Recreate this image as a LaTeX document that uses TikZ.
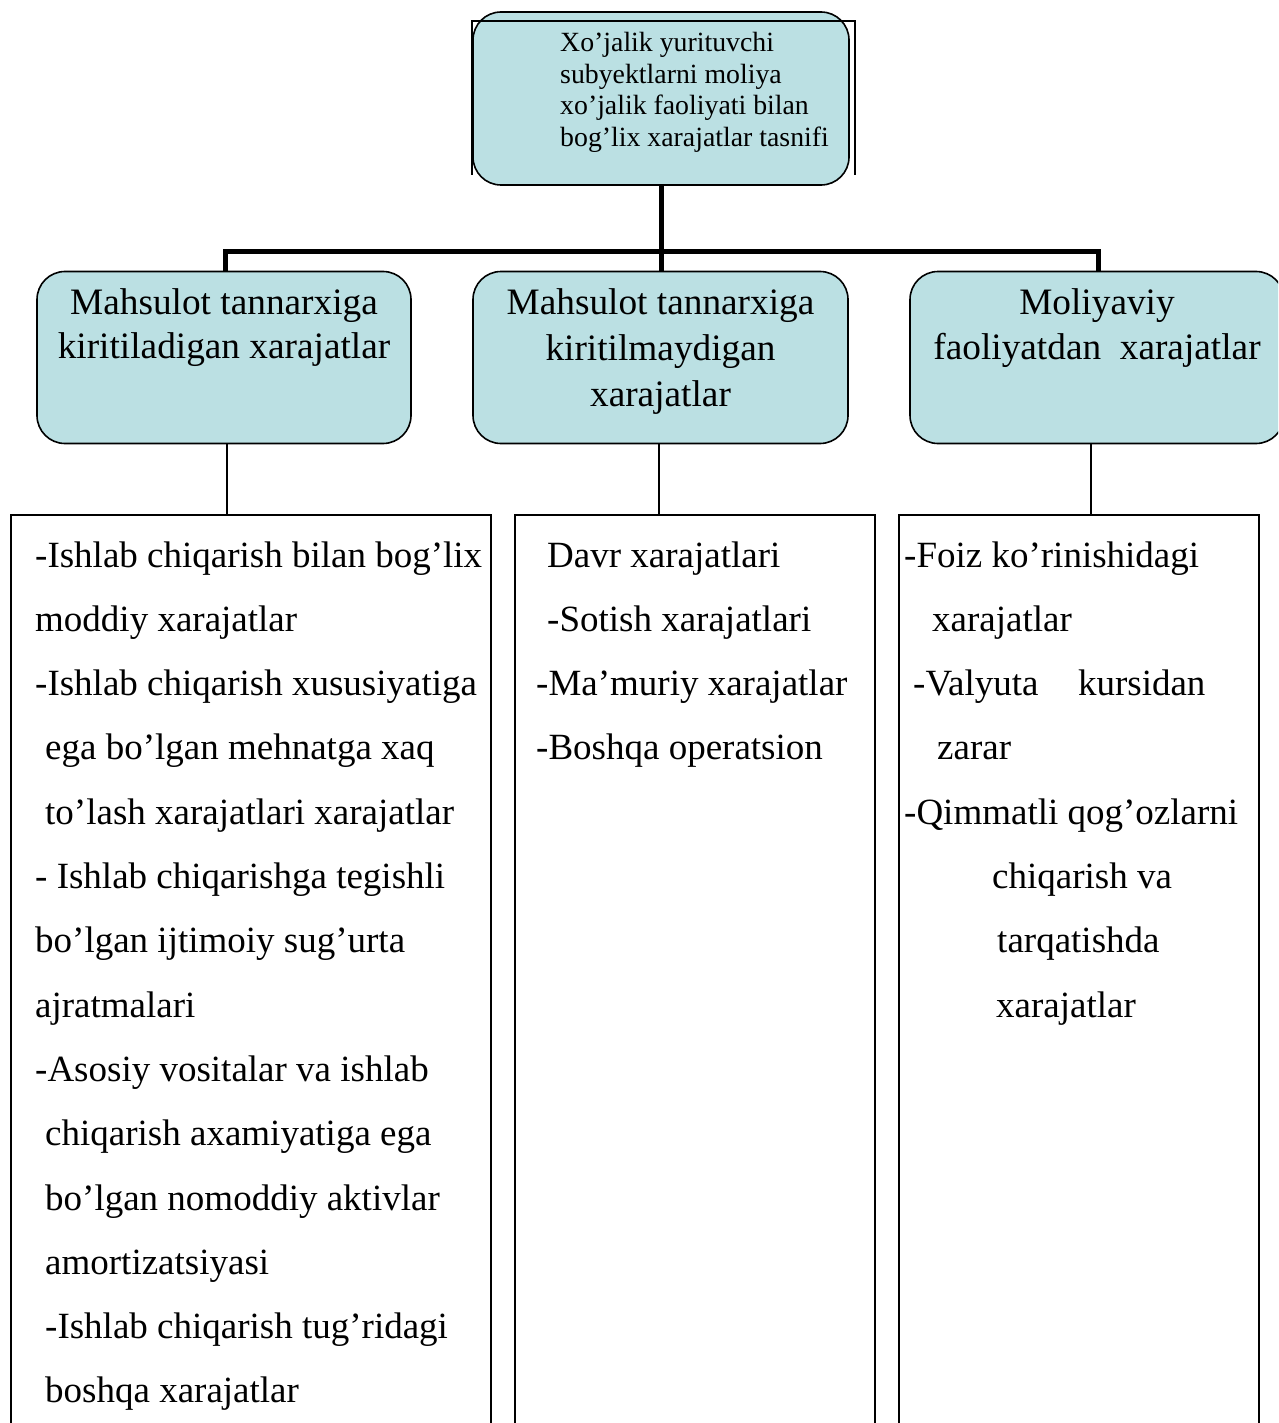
\documentclass[tikz,border=0pt]{standalone}
\usepackage{fontspec}
\setmainfont{Liberation Serif}
\definecolor{boxblue}{RGB}{187,224,227}
\begin{document}
\begin{tikzpicture}[x=1pt,y=-1pt,
  bluebox/.style={draw, line width=1.6pt, fill=boxblue, rounded corners=28pt, inner sep=0pt},
  listbox/.style={draw, line width=1.6pt, inner sep=0pt},
  thickc/.style={line width=5pt, line join=miter},
  thinc/.style={line width=1.5pt},
  bigtxt/.style={font=\fontsize{37}{42}\selectfont, inner sep=0pt, anchor=base west},
  midtxt/.style={font=\fontsize{37.3}{42}\selectfont, inner sep=0pt, anchor=base},
  toptxt/.style={font=\fontsize{27.8}{31}\selectfont, inner sep=0pt, anchor=base west}]
\useasboundingbox (0,0) rectangle (1278,1423);
\clip (0,0) rectangle (1278,1423);
\fill[white] (0,0) rectangle (1278,1423);

% top box
\node[bluebox, minimum width=376pt, minimum height=173pt] (top) at (661,98.5) {};
\draw[thinc] (472,175) -- (472,21) -- (855,21) -- (855,175);
\node[toptxt] (tt1) at (560,52) {Xo’jalik yurituvchi};
\node[toptxt] (tt2) at (560,83.5) {subyektlarni moliya};
\node[toptxt] (tt3) at (560,115) {xo’jalik faoliyati bilan};
\node[toptxt] (tt4) at (560,146.5) {bog’lix xarajatlar tasnifi};

% middle boxes
\node[bluebox, minimum width=374pt, minimum height=172pt] (b1) at (224,357.5) {};
\node[bluebox, minimum width=375pt, minimum height=172pt] (b2) at (660.5,357.5) {};
\node[bluebox, minimum width=374pt, minimum height=172pt] (b3) at (1097,357.5) {};

\node[midtxt] (m11) at (224,314) {Mahsulot tannarxiga};
\node[midtxt] (m12) at (224,358) {kiritiladigan xarajatlar};
\node[midtxt] (m21) at (660.5,314) {Mahsulot tannarxiga};
\node[midtxt] (m22) at (660.5,360) {kiritilmaydigan};
\node[midtxt] (m23) at (660.5,406) {xarajatlar};
\node[midtxt] (m31) at (1097,314) {Moliyaviy};
\node[midtxt] (m32) at (1097,359) {faoliyatdan\ \ xarajatlar};

% thick connectors
\coordinate (hub) at (661,252);
\draw[thickc] (top.south) -- (hub);
\draw[thickc] ([xshift=1pt]b1.north) |- (hub) -| ([xshift=1pt]b3.north);
\draw[thickc] (hub) -- (hub |- b2.north);

% bottom boxes
\node[listbox, minimum width=480pt, minimum height=925pt] (A) at (251,977.5) {};
\node[listbox, minimum width=360pt, minimum height=925pt] (B) at (695,977.5) {};
\node[listbox, minimum width=360pt, minimum height=925pt] (C) at (1079,977.5) {};

% thin connectors
\draw[thinc] ([xshift=3pt]b1.south) -- ([xshift=3pt]b1.south |- A.north);
\draw[thinc] ([xshift=-1.5pt]b2.south) -- ([xshift=-1.5pt]b2.south |- B.north);
\draw[thinc] ([xshift=-6pt]b3.south) -- ([xshift=-6pt]b3.south |- C.north);

% list texts
\foreach \xx/\tx [count=\k] in {
  35/{-Ishlab chiqarish bilan bog’lix},
  35/{moddiy xarajatlar},
  35/{-Ishlab chiqarish xususiyatiga},
  45/{ega bo’lgan mehnatga xaq},
  45/{to’lash xarajatlari xarajatlar},
  35/{- Ishlab chiqarishga tegishli},
  35/{bo’lgan ijtimoiy sug’urta},
  35/{ajratmalari},
  35/{-Asosiy vositalar va ishlab},
  45/{chiqarish axamiyatiga ega},
  45/{bo’lgan nomoddiy aktivlar},
  45/{amortizatsiyasi},
  45/{-Ishlab chiqarish tug’ridagi},
  45/{boshqa xarajatlar}}
  \node[bigtxt] (a\k) at (\xx,{567+(\k-1)*64.3}) {\tx};

\foreach \xx/\tx [count=\k] in {
  547/{Davr xarajatlari},
  547/{-Sotish xarajatlari},
  536/{-Ma’muriy xarajatlar},
  536/{-Boshqa operatsion}}
  \node[bigtxt] (bt\k) at (\xx,{567+(\k-1)*64.3}) {\tx};

\foreach \xx/\tx [count=\k] in {
  904/{-Foiz ko’rinishidagi},
  932/{xarajatlar},
  913/{-Valyuta\hspace{39.5pt}kursidan},
  937/{zarar},
  904/{-Qimmatli qog’ozlarni},
  992/{chiqarish va},
  997/{tarqatishda},
  996/{xarajatlar}}
  \node[bigtxt] (ct\k) at (\xx,{567+(\k-1)*64.3}) {\tx};
\end{tikzpicture}
\end{document}
